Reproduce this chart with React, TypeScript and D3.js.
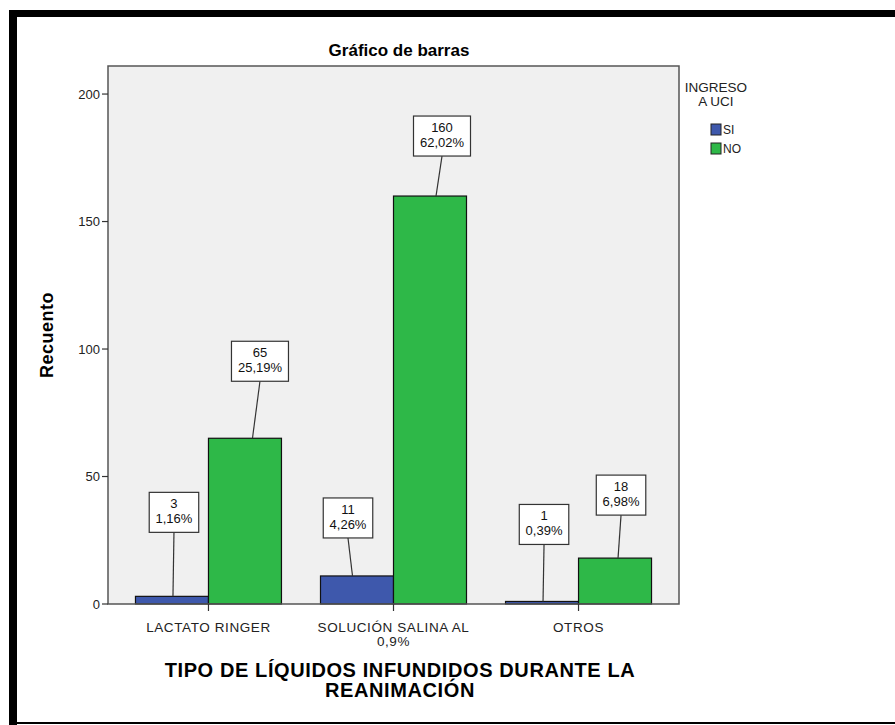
import React from "react";
import * as d3 from "d3";

const categoryLines: string[][] = [["LACTATO RINGER"], ["SOLUCIÓN SALINA AL", "0,9%"], ["OTROS"]];
const categories = ["LACTATO RINGER", "SOLUCIÓN SALINA AL 0,9%", "OTROS"];
const seriesNames = ["SI", "NO"];
const siCounts = [3, 11, 1];
const noCounts = [65, 160, 18];
const siPercents = ["1,16%", "4,26%", "0,39%"];
const noPercents = ["25,19%", "62,02%", "6,98%"];
const yTicks = [0, 50, 100, 150, 200];
const chartTitle = "Gráfico de barras";
const yTitle = "Recuento";
const xTitleLines = ["TIPO DE LÍQUIDOS INFUNDIDOS DURANTE LA", "REANIMACIÓN"];
const legendTitle = ["INGRESO", "A UCI"];

// layout only: label box offsets relative to bar (dx, gap above bar top)
const labelLayout = [
  [[2, 64], [15, 57]],
  [[-9, 38], [12, 40]],
  [[2, 57], [6, 43]],
];

const colors = ["#3E58AC", "#2EB848"];
const font = "Arial, 'Liberation Sans', Helvetica, sans-serif";

export default function App() {
  const W = 895, H = 725;
  const left = 108, right = 679, top = 66, bottom = 604;
  const y = d3.scaleLinear().domain([0, 211]).range([bottom, top]);
  const x = d3.scalePoint<string>().domain(categories).range([left, right]).padding(0.543);
  const inner = d3.scaleBand<string>().domain(seriesNames).range([-73, 73]).padding(0);
  const series = [siCounts, noCounts];
  const pcts = [siPercents, noPercents];

  const bars: any[] = [];
  categories.forEach((c, ci) => {
    seriesNames.forEach((s, si) => {
      const v = series[si][ci];
      const bx = (x(c) as number) + (inner(s) as number);
      const bw = inner.bandwidth();
      bars.push({ c, ci, s, si, v, bx, bw, pct: pcts[si][ci] });
    });
  });

  return (
    <svg width={W} height={H} style={{ position: "absolute", left: 0, top: 0, background: "#fff" }} fontFamily={font}>
      <rect x={0} y={0} width={W} height={H} fill="#fff" />
      {/* outer black frame */}
      <rect x={9} y={10} width={W - 9} height={7} fill="#000" />
      <rect x={9} y={10} width={8} height={H - 10} fill="#000" />
      <rect x={9} y={H - 3} width={W - 9} height={2} fill="#000" />

      <text x={399} y={56} textAnchor="middle" fontSize={17} fontWeight="bold" fill="#000">{chartTitle}</text>

      {/* plot background */}
      <rect x={left} y={top} width={right - left} height={bottom - top} fill="#F0F0F0" stroke="none" />

      {/* bars */}
      {bars.map((b, i) => (
        <rect key={i} x={b.bx} y={y(b.v)} width={b.bw} height={bottom - y(b.v)} fill={colors[b.si]} stroke="#111" strokeWidth={1.2} />
      ))}

      {/* frame */}
      <rect x={left} y={top} width={right - left} height={bottom - top} fill="none" stroke="#555" strokeWidth={1.5} />

      {/* y axis ticks */}
      {yTicks.map((t) => (
        <g key={t}>
          <line x1={left - 6} x2={left} y1={y(t)} y2={y(t)} stroke="#333" strokeWidth={1.2} />
          <text x={left - 8} y={y(t) + 4.5} textAnchor="end" fontSize={13} fill="#222">{t}</text>
        </g>
      ))}
      <text transform={`translate(53, ${(top + bottom) / 2}) rotate(-90)`} textAnchor="middle" fontSize={18} fontWeight="bold" letterSpacing={0.5} fill="#000">{yTitle}</text>

      {/* x ticks */}
      {categories.map((c, ci) => (
        <g key={c}>
          <line x1={x(c)} x2={x(c)} y1={bottom} y2={bottom + 7} stroke="#333" strokeWidth={1.2} />
          {categoryLines[ci].map((ln, li) => (
            <text key={li} x={x(c)} y={bottom + 28 + li * 14} textAnchor="middle" fontSize={13.5} letterSpacing={0.6} fill="#222">{ln}</text>
          ))}
        </g>
      ))}
      {xTitleLines.map((ln, li) => (
        <text key={li} x={400} y={677 + li * 20} textAnchor="middle" fontSize={20} fontWeight="bold" letterSpacing={0.6} fill="#000">{ln}</text>
      ))}

      {/* data labels */}
      {bars.map((b, i) => {
        const [dx, gap] = labelLayout[b.ci][b.si];
        const cx = b.bx + b.bw / 2;
        const barTop = y(b.v);
        const boxCx = cx + dx;
        const boxBottom = barTop - gap;
        const bh = 40;
        const chars = Math.max(String(b.v).length, b.pct.length);
        const bw = 12 + chars * 7.5;
        return (
          <g key={"l" + i}>
            <line x1={boxCx} y1={boxBottom} x2={cx + dx * 0.5} y2={barTop} stroke="#333" strokeWidth={1.2} />
            <rect x={boxCx - bw / 2} y={boxBottom - bh} width={bw} height={bh} fill="#fff" stroke="#333" strokeWidth={1.2} />
            <text x={boxCx} y={boxBottom - bh + 16} textAnchor="middle" fontSize={13} fill="#111">{b.v}</text>
            <text x={boxCx} y={boxBottom - bh + 31} textAnchor="middle" fontSize={13} fill="#111">{b.pct}</text>
          </g>
        );
      })}

      {/* legend */}
      {legendTitle.map((ln, li) => (
        <text key={li} x={716} y={92 + li * 14} textAnchor="middle" fontSize={13.5} fill="#222">{ln}</text>
      ))}
      {seriesNames.map((s, si) => (
        <g key={s}>
          <rect x={711} y={124 + si * 19} width={10} height={11} fill={colors[si]} stroke="#222" strokeWidth={1} />
          <text x={723} y={134 + si * 19} fontSize={12} fill="#222">{s}</text>
        </g>
      ))}
    </svg>
  );
}
